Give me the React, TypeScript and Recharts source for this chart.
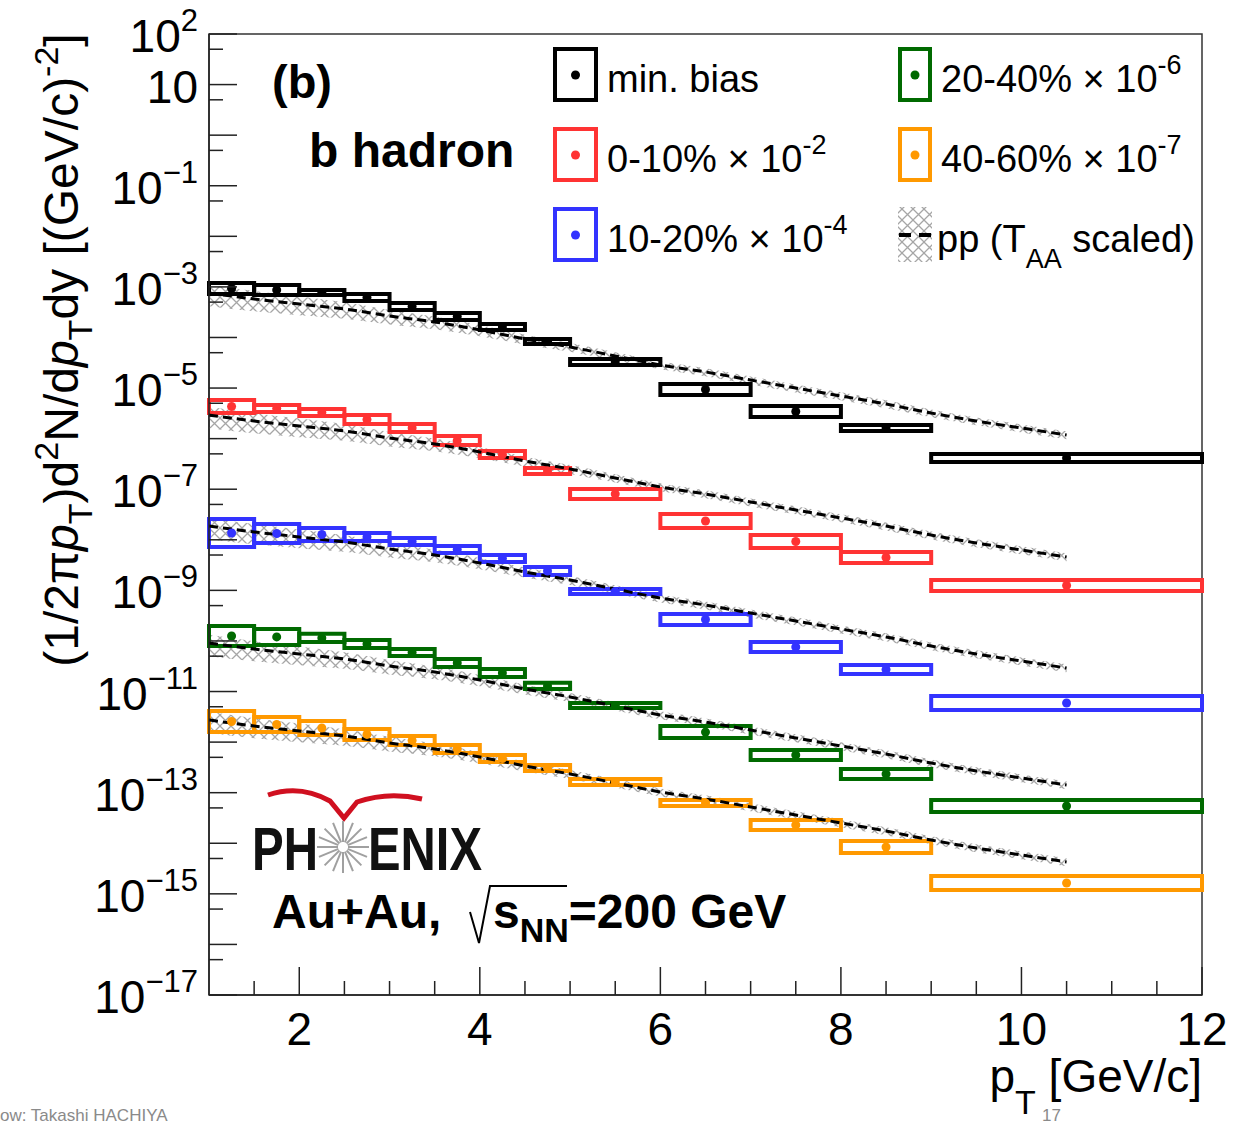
import React from "react";
import {
  ComposedChart,
  XAxis,
  YAxis,
  Line,
  Area,
  Scatter,
  ReferenceArea,
  Legend,
} from "recharts";

const FONT = "'Liberation Sans', Arial, Helvetica, sans-serif";

// pT bins (GeV/c)
const binLo = [1, 1.5, 2, 2.5, 3, 3.5, 4, 4.5, 5, 6, 7, 8, 9];
const binHi = [1.5, 2, 2.5, 3, 3.5, 4, 4.5, 5, 6, 7, 8, 9, 12];
const binCenter = [1.25, 1.75, 2.25, 2.75, 3.25, 3.75, 4.25, 4.75, 5.5, 6.5, 7.5, 8.5, 10.5];

// yields (already multiplied by the legend scale factors)
const minBias = [9.29e-4, 8.69e-4, 7.75e-4, 6.17e-4, 4.09e-4, 2.6e-4, 1.61e-4, 8.32e-5, 3.27e-5, 9.36e-6, 3.44e-6, 1.62e-6, 4.14e-7];
const cent0010 = [4.32e-6, 3.94e-6, 3.29e-6, 2.39e-6, 1.62e-6, 9.18e-7, 4.85e-7, 2.29e-7, 8.04e-8, 2.35e-8, 9.25e-9, 4.47e-9, 1.25e-9];
const cent1020 = [1.36e-8, 1.33e-8, 1.27e-8, 1.14e-8, 9.25e-9, 6.43e-9, 4.27e-9, 2.42e-9, 9.5e-10, 2.65e-10, 7.6e-11, 2.73e-11, 5.93e-12];
const cent2040 = [1.25e-10, 1.2e-10, 1.15e-10, 8.7e-11, 5.92e-11, 3.66e-11, 2.32e-11, 1.29e-11, 5.3e-12, 1.58e-12, 5.56e-13, 2.34e-13, 5.46e-14];
const cent4060 = [2.56e-12, 2.23e-12, 1.9e-12, 1.42e-12, 1.08e-12, 7.31e-13, 4.74e-13, 3.08e-13, 1.63e-13, 6.25e-14, 2.3e-14, 8.43e-15, 1.64e-15];

// systematic box size (relative)
const minBiasSys = [0.285, 0.255, 0.12, 0.17, 0.17, 0.17, 0.15, 0.12, 0.15, 0.285, 0.285, 0.15, 0.2];
const cent0010Sys = [0.345, 0.17, 0.17, 0.23, 0.2, 0.23, 0.17, 0.15, 0.255, 0.375, 0.345, 0.285, 0.285];
const cent1020Sys = [0.89, 0.54, 0.345, 0.2, 0.17, 0.17, 0.17, 0.2, 0.12, 0.285, 0.255, 0.23, 0.375];
const cent2040Sys = [0.577, 0.44, 0.2, 0.2, 0.17, 0.2, 0.2, 0.15, 0.12, 0.314, 0.255, 0.255, 0.314];
const cent4060Sys = [0.613, 0.407, 0.375, 0.285, 0.227, 0.2, 0.17, 0.15, 0.15, 0.15, 0.255, 0.314, 0.375];

// pp reference (T_AA scaled)
const ppX = [1, 1.5, 2, 2.5, 3, 3.5, 4, 4.5, 5, 5.5, 6, 6.5, 7, 7.5, 8, 8.5, 9, 9.5, 10, 10.5];
const ppMinBias = [7.57e-4, 5.77e-4, 4.59e-4, 3.66e-4, 2.66e-4, 2.02e-4, 1.41e-4, 9.33e-5, 6.49e-5, 4.31e-5, 2.86e-5, 2.08e-5, 1.44e-5, 1.0e-5, 6.97e-6, 4.84e-6, 3.21e-6, 2.23e-6, 1.62e-6, 1.18e-6];
const pp0010 = [2.93e-6, 2.23e-6, 1.78e-6, 1.42e-6, 1.03e-6, 7.83e-7, 5.45e-7, 3.61e-7, 2.51e-7, 1.67e-7, 1.11e-7, 8.04e-8, 5.58e-8, 3.88e-8, 2.7e-8, 1.87e-8, 1.24e-8, 8.65e-9, 6.28e-9, 4.57e-9];
const pp1020 = [1.87e-8, 1.43e-8, 1.14e-8, 9.04e-9, 6.58e-9, 5.0e-9, 3.48e-9, 2.31e-9, 1.6e-9, 1.06e-9, 7.06e-10, 5.13e-10, 3.56e-10, 2.48e-10, 1.72e-10, 1.2e-10, 7.94e-11, 5.52e-11, 4.01e-11, 2.92e-11];
const pp2040 = [9.1e-11, 6.93e-11, 5.52e-11, 4.4e-11, 3.2e-11, 2.43e-11, 1.69e-11, 1.12e-11, 7.8e-12, 5.18e-12, 3.44e-12, 2.49e-12, 1.73e-12, 1.21e-12, 8.38e-13, 5.82e-13, 3.86e-13, 2.69e-13, 1.95e-13, 1.42e-13];
const pp4060 = [2.74e-12, 2.08e-12, 1.66e-12, 1.32e-12, 9.62e-13, 7.31e-13, 5.08e-13, 3.37e-13, 2.34e-13, 1.56e-13, 1.03e-13, 7.5e-14, 5.21e-14, 3.62e-14, 2.52e-14, 1.75e-14, 1.16e-14, 8.07e-15, 5.86e-15, 4.27e-15];
const ppBand = [0.45, 0.43, 0.4, 0.36, 0.32, 0.28, 0.25, 0.22, 0.2, 0.19, 0.18, 0.18, 0.18, 0.18, 0.18, 0.18, 0.18, 0.18, 0.18, 0.18];

// axis ticks
const xTicks = [1.5, 2, 2.5, 3, 3.5, 4, 4.5, 5, 5.5, 6, 6.5, 7, 7.5, 8, 8.5, 9, 9.5, 10, 10.5, 11, 11.5, 12];
const xMajor = [2, 4, 6, 8, 10, 12];
const yMajorTicks = [1e2, 1e1, 1, 1e-1, 1e-2, 1e-3, 1e-4, 1e-5, 1e-6, 1e-7, 1e-8, 1e-9, 1e-10, 1e-11, 1e-12, 1e-13, 1e-14, 1e-15, 1e-16, 1e-17];
const yMinorTicks = [50, 5, 0.5, 5e-2, 5e-3, 5e-4, 5e-5, 5e-6, 5e-7, 5e-8, 5e-9, 5e-10, 5e-11, 5e-12, 5e-13, 5e-14, 5e-15, 5e-16, 5e-17];
const yLabelExps = [2, 1, -1, -3, -5, -7, -9, -11, -13, -15, -17];

const series = [
  { key: "mb", color: "#000000", vals: minBias, sys: minBiasSys, pp: ppMinBias },
  { key: "c0010", color: "#ff3333", vals: cent0010, sys: cent0010Sys, pp: pp0010 },
  { key: "c1020", color: "#3333ff", vals: cent1020, sys: cent1020Sys, pp: pp1020 },
  { key: "c2040", color: "#006a00", vals: cent2040, sys: cent2040Sys, pp: pp2040 },
  { key: "c4060", color: "#ff9900", vals: cent4060, sys: cent4060Sys, pp: pp4060 },
];

const ppTable = ppX.map((x, i) => {
  const row: any = { x };
  series.forEach((s) => {
    row[s.key + "pp"] = s.pp[i];
    row[s.key + "band"] = [s.pp[i] * (1 - ppBand[i]), s.pp[i] * (1 + ppBand[i])];
  });
  return row;
});

const renderXTick = (props: any) => {
  const { x, y, payload } = props;
  const major = xMajor.includes(payload.value);
  return (
    <g>
      <line x1={x} x2={x} y1={y} y2={y - (major ? 28 : 14)} stroke="#222" strokeWidth={1.5} />
      {major && (
        <text x={x} y={y + 50} textAnchor="middle" fontSize={46} fontFamily={FONT} fill="#000">
          {payload.value}
        </text>
      )}
    </g>
  );
};

const renderYTick = (props: any) => {
  const { x, y, payload } = props;
  const e = Math.log10(payload.value);
  const exp = Math.round(e);
  const major = Math.abs(e - exp) < 1e-6;
  const labeled = major && yLabelExps.includes(exp);
  return (
    <g>
      <line x1={x} x2={x + (major ? 28 : 14)} y1={y} y2={y} stroke="#222" strokeWidth={1.5} />
      {labeled && (
        <text x={x - 11} y={y + 18} textAnchor="end" fontSize={46} fontFamily={FONT} fill="#000">
          10
          {exp !== 1 && (
            <tspan fontSize={31} dy={-21}>
              {exp < 0 ? "\u2212" + -exp : String(exp)}
            </tspan>
          )}
        </text>
      )}
    </g>
  );
};

const legendRows = [
  { x: 553, w: 45, y: 47, color: "#000000", text: "min. bias", exp: "" },
  { x: 553, w: 45, y: 127, color: "#ff3333", text: "0-10% \u00d7 10", exp: "-2" },
  { x: 553, w: 45, y: 207, color: "#3333ff", text: "10-20% \u00d7 10", exp: "-4" },
  { x: 898, w: 34, y: 47, color: "#006a00", text: "20-40% \u00d7 10", exp: "-6" },
  { x: 898, w: 34, y: 127, color: "#ff9900", text: "40-60% \u00d7 10", exp: "-7" },
];

const renderLegend = () => (
  <svg width={1242} height={290} style={{ display: "block" }}>
    {legendRows.map((r) => (
      <g key={r.text}>
        <rect x={r.x + 2} y={r.y + 2} width={r.w - 4} height={51} fill="none" stroke={r.color} strokeWidth={4} />
        <circle cx={r.x + r.w / 2} cy={r.y + 28} r={4.5} fill={r.color} />
        <text x={r.x + r.w + 9} y={r.y + 45} fontSize={38} fontFamily={FONT} fill="#000">
          {r.text}
          {r.exp && (
            <tspan fontSize={27} dy={-18}>
              {r.exp}
            </tspan>
          )}
        </text>
      </g>
    ))}
    <rect x={898} y={207} width={34} height={55} fill="url(#ppHatch)" />
    <line x1={899} x2={911} y1={235} y2={235} stroke="#000" strokeWidth={4} />
    <line x1={919} x2={931} y1={235} y2={235} stroke="#000" strokeWidth={4} />
    <text x={937} y={252} fontSize={38} fontFamily={FONT} fill="#000">
      pp (T
      <tspan fontSize={27} dy={16}>
        AA
      </tspan>
      <tspan dy={-16}> scaled)</tspan>
    </text>
  </svg>
);

const starSpokes = Array.from({ length: 16 }, (_, i) => (i * Math.PI) / 8);

export default function App() {
  return (
    <div
      style={{
        position: "absolute",
        left: 0,
        top: 0,
        width: 1242,
        height: 1124,
        overflow: "hidden",
        background: "#fff",
      }}
    >
      <ComposedChart
        width={1242}
        height={1124}
        data={ppTable}
        margin={{ top: 34, right: 40, bottom: 69, left: 59 }}
      >
        <defs>
          <pattern id="ppHatch" width={11} height={11} patternUnits="userSpaceOnUse">
            <path d="M0,0 L11,11 M11,0 L0,11" stroke="#a6a6a6" strokeWidth={1.3} />
          </pattern>
        </defs>
        <XAxis
          type="number"
          dataKey="x"
          domain={[1, 12]}
          ticks={xTicks}
          interval={0}
          allowDataOverflow
          tickSize={0}
          tickMargin={0}
          tickLine={false}
          height={60}
          axisLine={{ stroke: "#222", strokeWidth: 1.5 }}
          tick={renderXTick}
        />
        <YAxis
          type="number"
          scale="log"
          domain={[1e-17, 100]}
          ticks={[...yMajorTicks, ...yMinorTicks]}
          interval={0}
          allowDataOverflow
          tickSize={0}
          tickMargin={0}
          tickLine={false}
          width={150}
          axisLine={{ stroke: "#222", strokeWidth: 1.5 }}
          tick={renderYTick}
        />
        <ReferenceArea
          x1={1}
          x2={12}
          y1={1e-17}
          y2={100}
          fill="none"
          stroke="#333"
          strokeWidth={1.5}
          ifOverflow="visible"
        />
        {series.map((s) => (
          <Area
            key={s.key + "band"}
            dataKey={s.key + "band"}
            type="monotone"
            fill="url(#ppHatch)"
            fillOpacity={1}
            stroke="none"
            isAnimationActive={false}
          />
        ))}
        {series.map((s) => (
          <Line
            key={s.key + "pp"}
            dataKey={s.key + "pp"}
            type="monotone"
            stroke="#000"
            strokeWidth={3}
            strokeDasharray="9 5"
            dot={false}
            isAnimationActive={false}
          />
        ))}
        {series.map((s) =>
          s.vals.map((v, i) => (
            <ReferenceArea
              key={s.key + "box" + i}
              x1={binLo[i]}
              x2={binHi[i]}
              y1={v / (1 + s.sys[i])}
              y2={v * (1 + s.sys[i])}
              fill="none"
              stroke={s.color}
              strokeWidth={4}
              ifOverflow="visible"
            />
          ))
        )}
        {series.map((s) => (
          <Scatter
            key={s.key + "pts"}
            data={s.vals.map((v, i) => ({ x: binCenter[i], y: v }))}
            dataKey="y"
            fill={s.color}
            isAnimationActive={false}
            shape={(p: any) => <circle cx={p.cx} cy={p.cy} r={4.5} fill={s.color} />}
          />
        ))}
        <Legend
          layout="vertical"
          align="center"
          verticalAlign="middle"
          content={renderLegend}
          wrapperStyle={{ top: 0, left: 0, width: 1242, height: 290 }}
        />
      </ComposedChart>

      <svg
        width={1242}
        height={1124}
        style={{ position: "absolute", left: 0, top: 0, pointerEvents: "none" }}
      >
        <text transform="translate(78,350) rotate(-90)" textAnchor="middle" fontSize={48} fontFamily={FONT} fill="#000">
          (1/2π<tspan fontStyle="italic">p</tspan>
          <tspan fontSize={34} dy={14}>T</tspan>
          <tspan dy={-14}>)d</tspan>
          <tspan fontSize={34} dy={-20}>2</tspan>
          <tspan dy={20}>N/d</tspan>
          <tspan fontStyle="italic">p</tspan>
          <tspan fontSize={34} dy={14}>T</tspan>
          <tspan dy={-14}>dy [(GeV/c)</tspan>
          <tspan fontSize={34} dy={-20}>-2</tspan>
          <tspan dy={20}>]</tspan>
        </text>

        <text x={272} y={98} fontSize={47} fontWeight="bold" fontFamily={FONT} fill="#000">
          (b)
        </text>
        <text x={309} y={167} fontSize={48} fontWeight="bold" fontFamily={FONT} fill="#000">
          b hadron
        </text>

        <path d="M268,795 Q300,784 330,801 L344,818 L357,802 Q388,791 422,799" fill="none" stroke="#d01020" strokeWidth={5} />
        <text x={252} y={870} fontSize={62} fontWeight="bold" fontFamily="'Liberation Sans Narrow', 'Liberation Sans', Arial, sans-serif" textLength={66} lengthAdjust="spacingAndGlyphs" fill="#111">
          PH
        </text>
        {starSpokes.map((a, i) => (
          <line
            key={i}
            x1={343 + 5 * Math.cos(a)}
            y1={847 + 5 * Math.sin(a)}
            x2={343 + 26 * Math.cos(a)}
            y2={847 + 26 * Math.sin(a)}
            stroke="#a0a0a0"
            strokeWidth={2}
          />
        ))}
        <text x={368} y={870} fontSize={62} fontWeight="bold" fontFamily="'Liberation Sans Narrow', 'Liberation Sans', Arial, sans-serif" textLength={114} lengthAdjust="spacingAndGlyphs" fill="#111">
          ENIX
        </text>

        <text x={272} y={928} fontSize={48} fontWeight="bold" fontFamily={FONT} fill="#000">
          Au+Au,
        </text>
        <path d="M470,912 L479,943 L490,886 L567,886" fill="none" stroke="#000" strokeWidth={2} />
        <text x={493} y={928} fontSize={48} fontWeight="bold" fontFamily={FONT} fill="#000">
          s<tspan fontSize={34} dy={14}>NN</tspan>
          <tspan dy={-14}>=200 GeV</tspan>
        </text>

        <text x={1202} y={1092} textAnchor="end" fontSize={46} fontFamily={FONT} fill="#000">
          p<tspan fontSize={34} dy={22}>T</tspan>
          <tspan dy={-22}> [GeV/c]</tspan>
        </text>

        <text x={0} y={1121} fontSize={17} fontFamily={FONT} fill="#8a8a8a">
          ow: Takashi HACHIYA
        </text>
        <text x={1042} y={1121} fontSize={17} fontFamily={FONT} fill="#8a8a8a">
          17
        </text>
      </svg>
    </div>
  );
}
